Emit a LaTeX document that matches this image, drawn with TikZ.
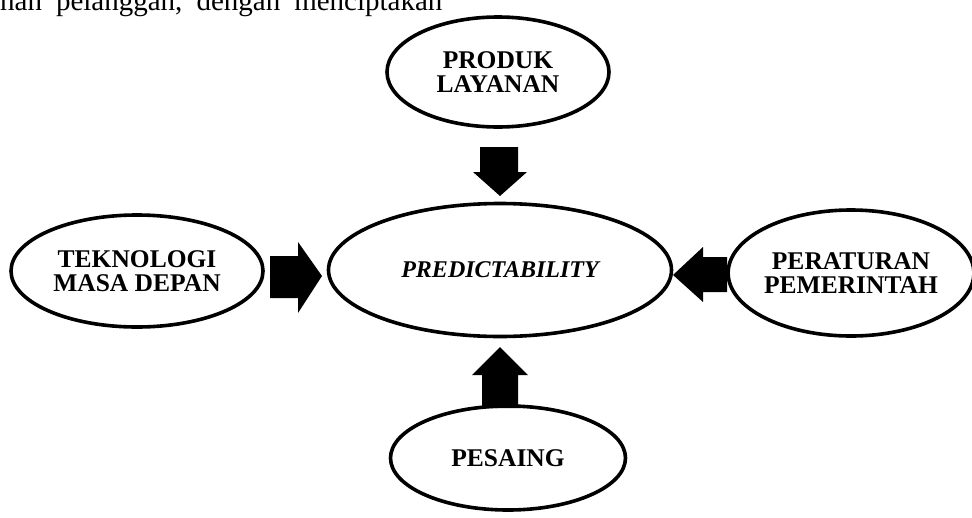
\documentclass[tikz,border=0pt]{standalone}
\usepackage{fontspec}
\setmainfont{Liberation Serif}
\usetikzlibrary{shapes.geometric}
\begin{document}
\begin{tikzpicture}[x=1pt,y=-1pt,
  oval/.style={ellipse,draw=black,line width=3.6pt,fill=white,inner sep=0pt,
    align=center,font=\fontsize{25.5}{24}\selectfont\bfseries},
  blockarr/.style={fill=black,draw=none}]
\useasboundingbox (0,0) rectangle (972,517);
% cut-off text line at the top
\node[anchor=base west,inner sep=0pt,font=\fontsize{29}{30}\selectfont] (toptext) at (0,10)
  {han\hspace{14pt}pelanggan,\hspace{14pt}dengan\hspace{14pt}menciptakan};
% ellipses
\node[oval,minimum width=222pt,minimum height=110pt] (prod) at (498,72) {PRODUK\\LAYANAN};
\node[oval,minimum width=343pt,minimum height=133pt,font=\fontsize{24}{24}\selectfont\bfseries\itshape] (pred) at (500,270) {PREDICTABILITY};
\node[oval,minimum width=252pt,minimum height=112pt] (tek) at (137,271) {TEKNOLOGI\\MASA DEPAN};
\node[oval,minimum width=236pt,minimum height=126pt] (per) at (851,273) {PERATURAN\\PEMERINTAH};
\node[oval,minimum width=235pt,minimum height=104pt] (pes) at (508,458) {PESAING};
% block arrows
\fill[blockarr] (480,147) -- (518,147) -- (518,172) -- (527,172) -- (500,196) -- (473,172) -- (480,172) -- cycle;
\fill[blockarr] (270,256) -- (298,256) -- (298,242) -- (322,276) -- (298,313) -- (298,298) -- (270,298) -- cycle;
\fill[blockarr] (727,257) -- (703,257) -- (703,247) -- (673,275) -- (703,302) -- (703,292) -- (727,292) -- cycle;
\fill[blockarr] (482,408) -- (482,375) -- (472,375) -- (500,347) -- (528,375) -- (518,375) -- (518,408) -- cycle;
\end{tikzpicture}
\end{document}
